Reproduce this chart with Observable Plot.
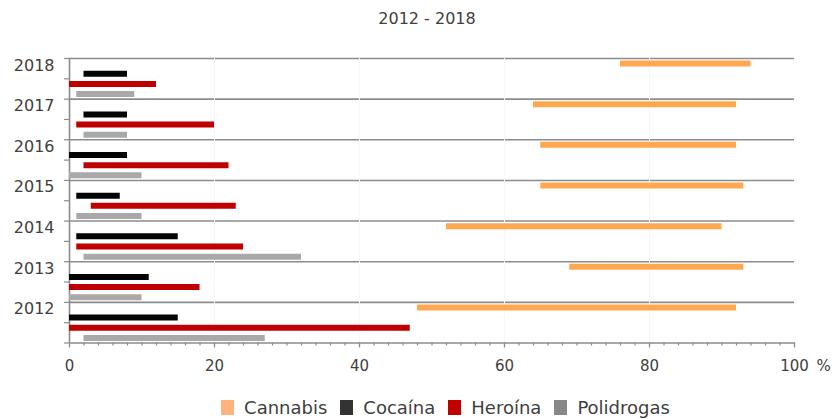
<!DOCTYPE html>
<html>
<head>
<meta charset="utf-8">
<script src="https://cdn.jsdelivr.net/npm/d3@7"></script>
<script src="https://cdn.jsdelivr.net/npm/@observablehq/plot@0.6"></script>
<style>
  html, body { margin: 0; padding: 0; background: #fff; }
  body { width: 834px; height: 419px; overflow: hidden; font-family: "DejaVu Sans", sans-serif; color: #404040; }
  #title { height: 40px; line-height: 38px; text-align: center; padding-left: 20px; box-sizing: border-box; font-size: 16px; color: #404040; }
  #chart svg { display: block; }
  #legend { height: 34px; padding-top: 10px; padding-left: 57px; box-sizing: border-box; display: flex; justify-content: center; align-items: center; font-size: 18px; color: #404040; }
  .item { display: flex; align-items: center; margin-right: 13px; }
  .item:last-child { margin-right: 0; }
  .sw { display: inline-block; width: 13px; height: 15px; margin-right: 10px; }
</style>
</head>
<body>
<div id="title">2012 - 2018</div>
<div id="chart"></div>
<div id="legend"></div>
<script>
// ---- data ----
const years = [2018, 2017, 2016, 2015, 2014, 2013, 2012];
const drugs = ["Cannabis", "Cocaína", "Heroína", "Polidrogas"];
const cannabisStart   = [76, 64, 65, 65, 52, 69, 48];
const cannabisEnd     = [94, 92, 92, 93, 90, 93, 92];
const cocainaStart    = [2, 2, 0, 1, 1, 0, 0];
const cocainaEnd      = [8, 8, 8, 7, 15, 11, 15];
const heroinaStart    = [0, 1, 2, 3, 1, 0, 0];
const heroinaEnd      = [12, 20, 22, 23, 24, 18, 47];
const polidrogasStart = [1, 2, 0, 1, 2, 0, 2];
const polidrogasEnd   = [9, 8, 10, 10, 32, 10, 27];
const xTicks = [0, 20, 40, 60, 80, 100];

// ---- styles ----
const barColors = ["#FFA850", "#050505", "#C00000", "#A9A9A9"];
const legendColors = ["#FFB27A", "#333333", "#C00000", "#888888"];
const gridColor = "#8c8c8c";
const textColor = "#404040";

const starts = [cannabisStart, cocainaStart, heroinaStart, polidrogasStart];
const ends = [cannabisEnd, cocainaEnd, heroinaEnd, polidrogasEnd];
const table = years.flatMap((year, i) => drugs.map((drug, j) => ({
  year, i, j, drug, start: starts[j][i], end: ends[j][i]
})));

const labelOffset = 0.17;

const chart = Plot.plot({
  width: 834,
  height: 345,
  marginLeft: 69,
  marginRight: 40,
  marginTop: 18,
  marginBottom: 42.5,
  style: { fontFamily: "DejaVu Sans, sans-serif", color: textColor, background: "#fff" },
  x: { domain: [0, 100] },
  y: { domain: [0, years.length], reverse: true },
  color: { domain: drugs, range: barColors },
  marks: [
    // horizontal gridlines at year boundaries (incl. bottom axis line)
    Plot.ruleY(d3.range(years.length + 1), { stroke: gridColor, strokeWidth: 1.6 }),
    // faint vertical gridlines
    Plot.ruleX(xTicks.filter(d => d > 0 && d < 100), { stroke: "#f7f7f7", strokeWidth: 1 }),
    // left axis line
    Plot.ruleX([0], { stroke: gridColor, strokeWidth: 1.6 }),
    // y ticks (major at boundaries, minor at band centres)
    Plot.axisY({ ticks: d3.range(0, years.length + 0.01, 0.5), tickSize: 5, tickFormat: () => "", stroke: gridColor, strokeWidth: 1.2, label: null }),
    // year labels
    Plot.axisY({ ticks: years.map((_, i) => i + labelOffset), tickSize: 0, tickPadding: 15,
      tickFormat: v => String(years[Math.round(v - labelOffset)]), fontSize: 16, fill: textColor, label: null }),
    // x minor ticks
    Plot.axisX({ ticks: d3.range(0, 101, 2), tickSize: 3, tickFormat: () => "", stroke: gridColor, strokeWidth: 1.2, label: null }),
    // x major ticks + labels
    Plot.axisX({ ticks: xTicks, tickSize: 5, tickPadding: 12.5, tickFormat: d => String(d), fontSize: 15, fill: textColor, stroke: gridColor, strokeWidth: 1.2, label: null }),
    Plot.text([100], { x: d => d, text: () => "%", frameAnchor: "bottom", lineAnchor: "top", dy: 17.5, dx: 29, fontSize: 15, fill: textColor }),
    // range bars
    Plot.ruleY(table, {
      y: d => d.i + (d.j + 0.5) / drugs.length,
      x1: "start", x2: "end",
      stroke: "drug", strokeWidth: 6
    })
  ]
});
document.getElementById("chart").appendChild(chart);

// legend
const legend = document.getElementById("legend");
drugs.forEach((d, j) => {
  const item = document.createElement("span");
  item.className = "item";
  const sw = document.createElement("span");
  sw.className = "sw";
  sw.style.background = legendColors[j];
  const t = document.createElement("span");
  t.textContent = d;
  item.appendChild(sw);
  item.appendChild(t);
  legend.appendChild(item);
});
</script>
</body>
</html>
